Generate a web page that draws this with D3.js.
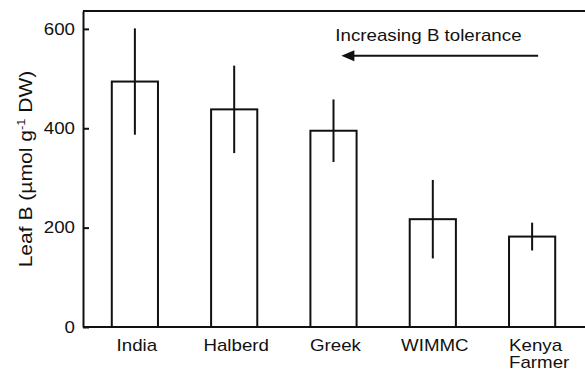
<!DOCTYPE html>
<html>
  <head>
    <script src="https://d3js.org/d3.v7.min.js" charset="utf-8"></script>
    <style>
      body { margin: 0; background: white; }
      text { font-family: "Liberation Sans", Arial, sans-serif; fill: #111; }
    </style>
  </head>
  <body>
    <svg id="chart" width="585" height="372"></svg>
    <script type="text/javascript">
    var cultivars = ["India", "Halberd", "Greek", "WIMMC", "Kenya Farmer"];
    var leafB = [494, 438, 395, 217, 182];
    var leafBErr = [107, 88, 63, 79, 28];
    var yTicks = [0, 200, 400, 600];
    var arrowLabel = "Increasing B tolerance";

    var stretch = "scale(1.17,1)";
    var margin = {top: 11, right: 0, bottom: 45, left: 83};
    var width = 585 - margin.left - margin.right;
    var height = 372 - margin.top - margin.bottom;

    var svg = d3.select("#chart");
    var chart = svg.append("g")
      .attr("transform", "translate(" + margin.left + "," + margin.top + ")");

    var x = d3.scaleBand()
      .domain(cultivars)
      .range([-1, width])
      .paddingInner(0.535)
      .paddingOuter(0.3);

    var y = d3.scaleLinear()
      .domain([0, 636])
      .range([height, 0]);

    // top frame line and baseline
    chart.append("line")
      .attr("x1", 0).attr("x2", width)
      .attr("y1", 0).attr("y2", 0)
      .attr("stroke", "#111").attr("stroke-width", 2);
    chart.append("line")
      .attr("x1", 0).attr("x2", width)
      .attr("y1", y(0)).attr("y2", y(0))
      .attr("stroke", "#111").attr("stroke-width", 2);

    var yAxis = d3.axisLeft(y)
      .tickValues(yTicks)
      .tickSizeInner(-6)
      .tickSizeOuter(0);

    var ya = chart.append("g").call(yAxis);
    ya.select(".domain").attr("stroke", "#111").attr("stroke-width", 2);
    ya.selectAll(".tick line").attr("stroke", "#111").attr("stroke-width", 2);
    ya.selectAll(".tick text")
      .attr("x", 0)
      .attr("transform", "translate(-8,0) " + stretch)
      .style("font-size", "16px")
      .style("font-family", "'Liberation Sans', Arial, sans-serif")
      .attr("fill", "#111");

    // bars
    chart.selectAll(".bar")
      .data(cultivars)
      .enter().append("rect")
      .attr("class", "bar")
      .attr("x", function(d) { return x(d); })
      .attr("width", x.bandwidth())
      .attr("y", function(d, i) { return y(leafB[i]); })
      .attr("height", function(d, i) { return y(0) - y(leafB[i]); })
      .attr("fill", "white")
      .attr("stroke", "#111")
      .attr("stroke-width", 2);

    // error bars
    chart.selectAll(".err")
      .data(cultivars)
      .enter().append("line")
      .attr("class", "err")
      .attr("x1", function(d) { return x(d) + x.bandwidth() / 2; })
      .attr("x2", function(d) { return x(d) + x.bandwidth() / 2; })
      .attr("y1", function(d, i) { return y(leafB[i] - leafBErr[i]); })
      .attr("y2", function(d, i) { return y(leafB[i] + leafBErr[i]); })
      .attr("stroke", "#111")
      .attr("stroke-width", 2);

    // category labels
    chart.selectAll(".xlab")
      .data(cultivars)
      .enter().append("text")
      .attr("class", "xlab")
      .attr("transform", function(d) {
        var multi = d.indexOf(" ") > 0;
        var px = multi ? x(d) : x(d) + x.bandwidth() / 2 + 2;
        return "translate(" + px + "," + (y(0) + 24) + ") " + stretch;
      })
      .attr("text-anchor", function(d) { return d.indexOf(" ") > 0 ? "start" : "middle"; })
      .style("font-size", "16px")
      .each(function(d) {
        var t = d3.select(this);
        d.split(" ").forEach(function(w, k) {
          t.append("tspan").attr("x", 0).attr("dy", k === 0 ? 0 : 17.5).text(w);
        });
      });

    // y label
    var ylab = svg.append("text")
      .attr("transform", "translate(32," + (margin.top + height / 2) + ") rotate(-90) " + stretch)
      .attr("text-anchor", "middle")
      .style("font-size", "18px");
    ylab.append("tspan").text("Leaf B (\u00b5mol g");
    ylab.append("tspan").attr("dy", -7).style("font-size", "11px").text("-1");
    ylab.append("tspan").attr("dy", 7).text(" DW)");

    // arrow annotation
    var arrowY = y(546);
    var ax0 = x("Greek") + x.bandwidth() * 0.67;
    var ax1 = x("Kenya Farmer") + x.bandwidth() * 0.63;
    chart.append("line")
      .attr("x1", ax0 + 10).attr("x2", ax1)
      .attr("y1", arrowY).attr("y2", arrowY)
      .attr("stroke", "#111").attr("stroke-width", 2);
    chart.append("path")
      .attr("d", d3.line()([[ax0, arrowY], [ax0 + 13, arrowY - 5.5], [ax0 + 13, arrowY + 5.5]]) + "Z")
      .attr("fill", "#111");
    chart.append("text")
      .attr("transform", "translate(" + (ax0 - 6) + "," + (arrowY - 14.5) + ") " + stretch)
      .style("font-size", "16px")
      .text(arrowLabel);
    </script>
  </body>
</html>
